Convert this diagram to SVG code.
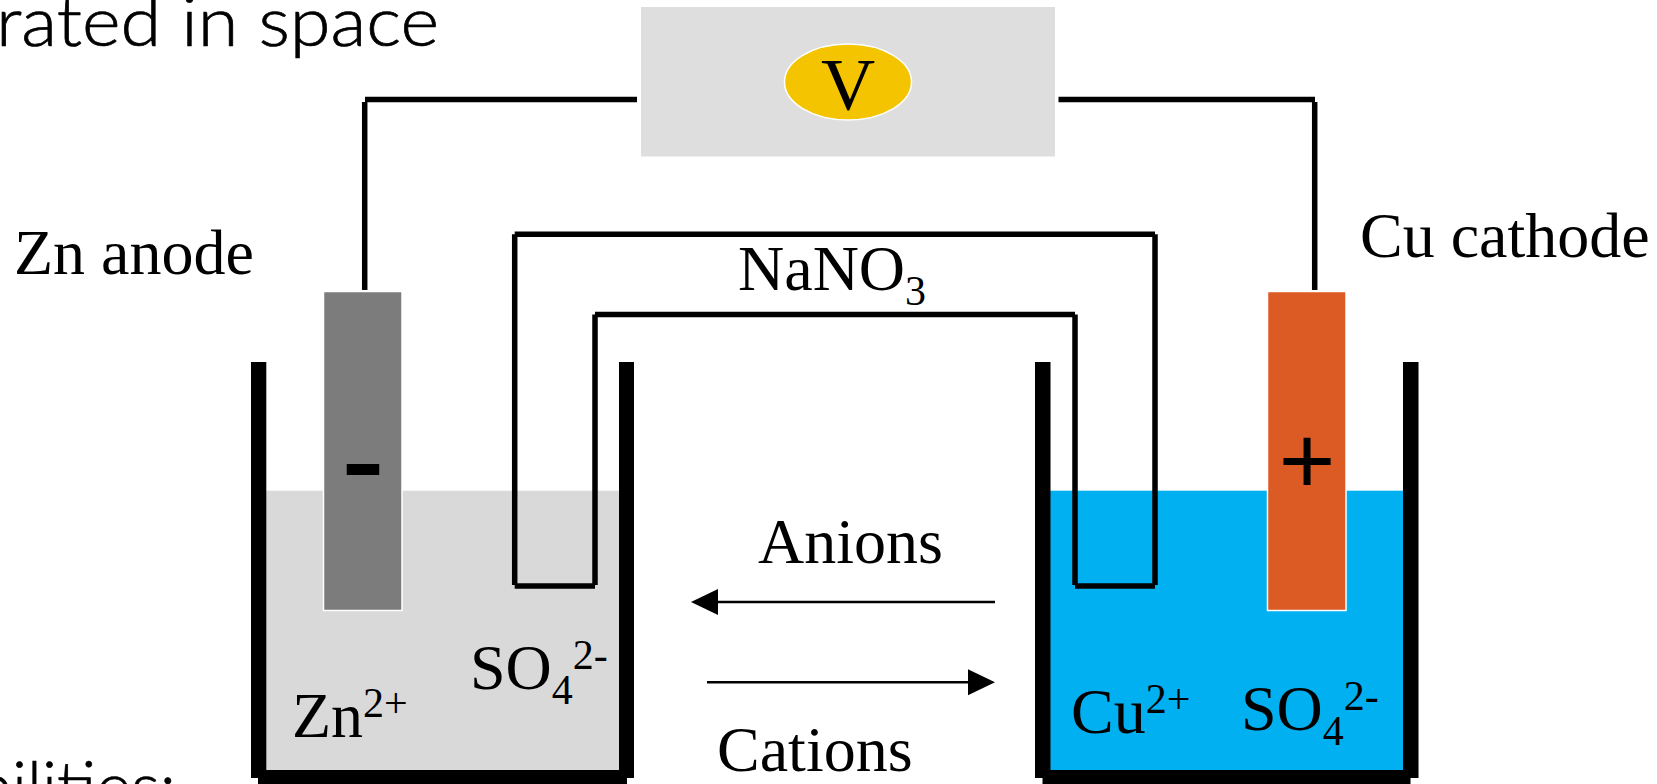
<svg xmlns="http://www.w3.org/2000/svg" width="1657" height="784" viewBox="0 0 1657 784">
<style>
.t{font-family:"Liberation Serif","Times New Roman",serif;font-size:64px;fill:#000}
.s{font-size:42px}
.g{font-family:Lato,"Noto Sans",sans-serif;font-weight:300;font-size:68px;fill:#000;stroke:#000;stroke-width:0.700}
.w{fill:#000}
.l{fill:none;stroke:#000;stroke-width:2.400}
.c{fill:none;stroke:#000;stroke-width:5.500}
</style>
<rect width="1657" height="784" fill="#fff"/>
<text class="g" x="-4" y="46" textLength="443" lengthAdjust="spacingAndGlyphs">rated in space</text>
<text class="g" x="-25" y="811" textLength="201" lengthAdjust="spacingAndGlyphs">bilities:</text>
<g id="voltmeter">
<rect x="641" y="7" width="414" height="149.500" fill="#dedede"/>
<ellipse cx="848" cy="82" rx="63.500" ry="38" fill="#f5c400" stroke="#fff" stroke-width="1.500"/>
<text class="t" x="848" y="109.500" text-anchor="middle" style="font-size:75px">V</text>
</g>
<g id="left-beaker">
<rect x="266" y="490.700" width="353" height="280" fill="#d9d9d9"/>
<rect x="251" y="362" width="15.300" height="416" class="w"/>
<rect x="619" y="362" width="15" height="416" class="w"/>
<rect x="258" y="770" width="369" height="14" class="w"/>
</g>
<g id="right-beaker">
<rect x="1050" y="490.700" width="353" height="280" fill="#00b0f0"/>
<rect x="1035" y="362" width="15.500" height="416" class="w"/>
<rect x="1403" y="362" width="15.500" height="416" class="w"/>
<rect x="1042.500" y="770" width="368" height="14" class="w"/>
</g>
<g id="zn-electrode">
<rect x="323.500" y="291.500" width="78.500" height="319" fill="#7c7c7c" stroke="#fff" stroke-width="1.500"/>
<text transform="translate(363,494.300) scale(1.280,0.920)" text-anchor="middle" style="font-family:'Liberation Sans',sans-serif;font-weight:700;font-size:100px">-</text>
</g>
<g id="cu-electrode">
<rect x="1267.500" y="291.500" width="78.500" height="319" fill="#dc5a24" stroke="#fff" stroke-width="1.500"/>
<text x="1307" y="494" text-anchor="middle" style="font-family:'Liberation Sans',sans-serif;font-size:97px">+</text>
</g>
<g id="connectors">
<path class="c" d="M637 99.500H365M364.700 102V290"/>
<path class="c" d="M1058.500 99.500H1315M1314.700 102V290"/>
<path class="c" d="M514.700 234.300H1155M514.700 234.300V585M514.700 586H595M595 585V314.500M595 314.500H1075M1075 314.500V585M1075 586H1155M1155 585V234.300"/>
<path class="l" d="M995 602H712"/>
<path d="M691 602L718 589V615Z" class="w"/>
<path class="l" d="M707 682.300H975"/>
<path d="M995 682.300L968 669.300V695.300Z" class="w"/>
</g>
<g id="labels">
<text class="t" x="14" y="273.500">Zn anode</text>
<text class="t" x="1360" y="257">Cu cathode</text>
<text class="t" x="738" y="290">NaNO<tspan class="s" dy="15">3</tspan></text>
<text class="t" x="758" y="563">Anions</text>
<text class="t" x="717" y="771">Cations</text>
<text class="t" x="292" y="737">Zn<tspan class="s" dy="-20">2+</tspan></text>
<text class="t" x="470" y="689">SO<tspan class="s" dy="15">4</tspan><tspan class="s" dy="-35">2-</tspan></text>
<text class="t" x="1071" y="733">Cu<tspan class="s" dy="-20">2+</tspan></text>
<text class="t" x="1241" y="730">SO<tspan class="s" dy="15">4</tspan><tspan class="s" dy="-35">2-</tspan></text>
</g>
</svg>
